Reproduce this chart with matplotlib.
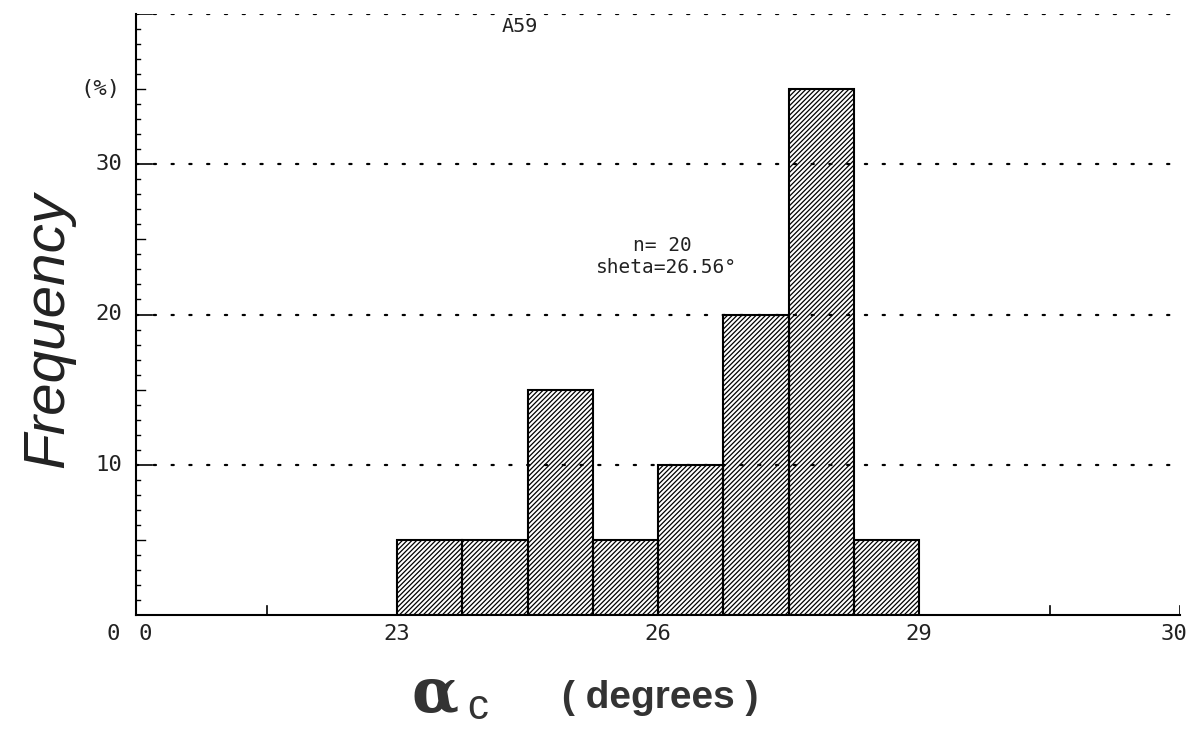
import matplotlib
matplotlib.use("Agg")
import matplotlib.pyplot as plt
import numpy as np

# Histogram of alpha_c for sample A59 (percent of n = 20)
bin_left = [23.0, 23.75, 24.5, 25.25, 26.0, 26.75, 27.5, 28.25]
bin_width = 0.75
percent = [5, 5, 15, 5, 10, 20, 35, 5]
x_tick_pos = [20, 23, 26, 29, 32]
x_tick_labels = ["0", "23", "26", "29", "30"]
y_tick_pos = [10, 20, 30]
y_tick_labels = ["10", "20", "30"]
grid_levels = [10, 20, 30, 40]

mono = "DejaVu Sans Mono"
ink = "#222222"
plt.rcParams["hatch.linewidth"] = 0.9
plt.rcParams["hatch.color"] = "#555555"

fig = plt.figure(figsize=(11.98, 7.39), dpi=100)
ax = fig.add_axes([136 / 1198, 1 - 615 / 739, (1180 - 136) / 1198, (615 - 14) / 739])
ax.set_xlim(20, 32)
ax.set_ylim(0, 40)

# dotted guide lines with a short solid stub at the axis
for g in grid_levels:
    ax.plot([20.0, 32.0], [g, g], linestyle=(0, (1, 7)), color="black",
            lw=1.6, dash_capstyle="round", zorder=1)
    ax.plot([20.0, 20.18], [g, g], color="black", lw=1.2, zorder=1)

ax.bar(bin_left, percent, width=bin_width, align="edge", facecolor="none",
       edgecolor="black", linewidth=1.5, hatch="///////", zorder=2)

for s in ["top", "right"]:
    ax.spines[s].set_visible(False)
ax.spines["left"].set_linewidth(1.5)
ax.spines["bottom"].set_linewidth(1.5)

# left axis ticks: every 1 %, longer every 5 %
ax.set_yticks([])
for v in range(1, 40):
    length = 0.1 if v % 5 == 0 else 0.05
    if v % 10 == 0:
        continue
    ax.plot([20, 20 + length], [v, v], color="black", lw=1.0, zorder=3)

# bottom axis ticks pointing up
ax.set_xticks([])
for v in [20, 21.5, 24.5, 27.5, 30.5, 32]:
    ax.plot([v, v], [0, 0.6], color="black", lw=1.2, zorder=3)

tick_fs = 16
for pos, lab in zip(x_tick_pos, x_tick_labels):
    xx = pos
    if pos == 20:
        xx = 20.1
    if pos == 32:
        xx = 31.93
    ax.text(xx, -0.6, lab, ha="center", va="top", fontsize=tick_fs,
            family=mono, color=ink)
ax.text(-0.015, -0.6 / 40, "0", transform=ax.transAxes, ha="right", va="top",
        fontsize=tick_fs, family=mono, color=ink)
for pos, lab in zip(y_tick_pos, y_tick_labels):
    ax.text(-0.013, pos, lab, transform=ax.get_yaxis_transform(), ha="right",
            va="center", fontsize=tick_fs, family=mono, color=ink)
ax.text(-0.015, 35, "(%)", transform=ax.get_yaxis_transform(), ha="right",
        va="center", fontsize=tick_fs, family=mono, color=ink)

ax.text(24.41, 39.2, "A59", ha="center", va="center", fontsize=14.5,
        family=mono, color=ink)
ax.text(26.05, 24.6, "n= 20", ha="center", va="center", fontsize=14,
        family=mono, color=ink)
ax.text(26.1, 23.1, "sheta=26.56°", ha="center", va="center", fontsize=14,
        family=mono, color=ink)

# axis titles
fig.text(48 / 1198, 1 - 330 / 739, "Frequency", rotation=90, ha="center",
         va="center", fontsize=42, style="italic", family="Liberation Sans",
         color=ink)
fig.text(435 / 1198, 1 - 695 / 739, "α", ha="center", va="center",
         fontsize=44, family="DejaVu Serif", weight="bold", color="#333333")
fig.text(478 / 1198, 1 - 708 / 739, "c", ha="center", va="center",
         fontsize=30, family="Liberation Sans", color="#333333")
fig.text(660 / 1198, 1 - 698 / 739, "( degrees )", ha="center", va="center",
         fontsize=28, family="Liberation Sans", weight="bold", color="#333333")

fig.savefig("out.png", dpi=100)
